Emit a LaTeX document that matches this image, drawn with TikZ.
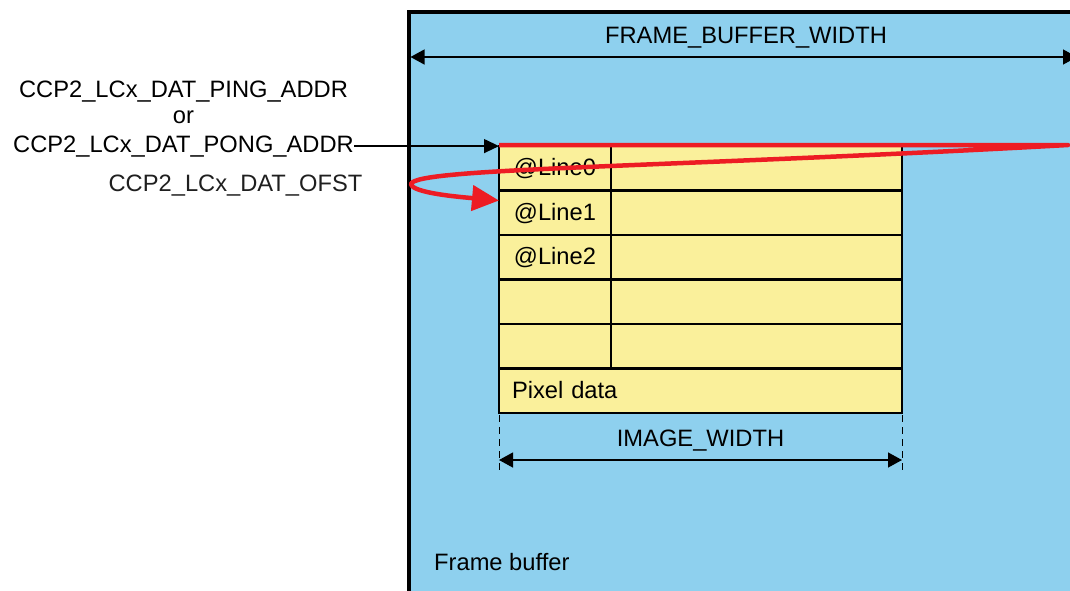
\documentclass[tikz,border=0pt]{standalone}
\usepackage{fontspec}
\setmainfont{Liberation Sans}
\usetikzlibrary{arrows.meta}
\definecolor{fbblue}{RGB}{142,208,238}
\definecolor{cellyellow}{RGB}{250,240,155}
\definecolor{loopred}{RGB}{237,28,36}
\begin{document}
\begin{tikzpicture}[x=1pt,y=-1pt, font=\fontsize{23.7}{28}\selectfont,
  cell/.style={draw=black, fill=cellyellow, line width=2.5pt, inner sep=0pt, outer sep=0pt,
    anchor=north west, minimum height=44.5pt, text height=15pt, text depth=0pt},
  lbl/.style={inner sep=0pt, anchor=base},
  dimarrow/.style={line width=1.3pt, {Triangle[length=14pt,width=15pt]}-{Triangle[length=14pt,width=15pt]}},
  extline/.style={line width=1pt, dash pattern=on 7pt off 5pt}]
\useasboundingbox (0,0) rectangle (1070,590);
\clip (0,0) rectangle (1070,590);
% frame buffer
\node[draw=black, fill=fbblue, line width=3.5pt, inner sep=0pt, outer sep=0pt, anchor=north west,
  minimum width=680pt, minimum height=600pt] (frame) at (409,12) {};
\coordinate (fbl) at (410.5,57);
\coordinate (fbr) at (1077,57);
\draw[dimarrow] (fbl) -- (fbr);
\node[lbl] (fbwl) at (746,43) {FRAME\_BUFFER\_WIDTH};
% table
\node[cell, minimum width=112pt] (l0) at (499,146) {@Line0};
\node[cell, minimum width=291pt] (r0) at (611,146) {};
\node[cell, minimum width=112pt] (l1) at (499,190.5) {@Line1};
\node[cell, minimum width=291pt] (r1) at (611,190.5) {};
\node[cell, minimum width=112pt] (l2) at (499,235) {@Line2};
\node[cell, minimum width=291pt] (r2) at (611,235) {};
\node[cell, minimum width=112pt] (l3) at (499,279.5) {};
\node[cell, minimum width=291pt] (r3) at (611,279.5) {};
\node[cell, minimum width=112pt] (l4) at (499,324) {};
\node[cell, minimum width=291pt] (r4) at (611,324) {};
\node[cell, text width=377pt, inner xsep=13pt, align=left] (pix) at (499,368.5) {Pixel data};
% image width
\draw[extline] ([yshift=-2pt]pix.south west) -- ++(0,56);
\draw[extline] ([yshift=-2pt]pix.south east) -- ++(0,56);
\coordinate (iwl) at (499,460);
\coordinate (iwr) at (902,460);
\draw[dimarrow] (iwl) -- (iwr);
\node[lbl] (iwlbl) at (700.5,446) {IMAGE\_WIDTH};
\node[lbl, anchor=base west] (fb) at (434,570) {Frame buffer};
% left labels
\node[lbl] (ping) at (183.5,97) {CCP2\_LCx\_DAT\_PING\_ADDR};
\node[lbl] (or) at (183.5,123) {or};
\node[lbl] (pong) at (183.5,152) {CCP2\_LCx\_DAT\_PONG\_ADDR};
\node[lbl, text=black!88] (ofst) at (235.5,191) {CCP2\_LCx\_DAT\_OFST};
\draw[line width=1.3pt, -{Triangle[length=15pt,width=14pt]}] (pong.east) -- (pong.east -| l0.north west);
% red loop
\coordinate (turn) at (1068,145);
\draw[loopred, line width=4.5pt, line join=round, -{Triangle[length=27pt,width=25pt]}]
  ([yshift=1pt]l0.north west) -- (turn)
  .. controls (650,168) and (415,168) .. (411,184)
  .. controls (412,193) and (460,197) .. ([yshift=-10pt]l1.north west);
\end{tikzpicture}
\end{document}
